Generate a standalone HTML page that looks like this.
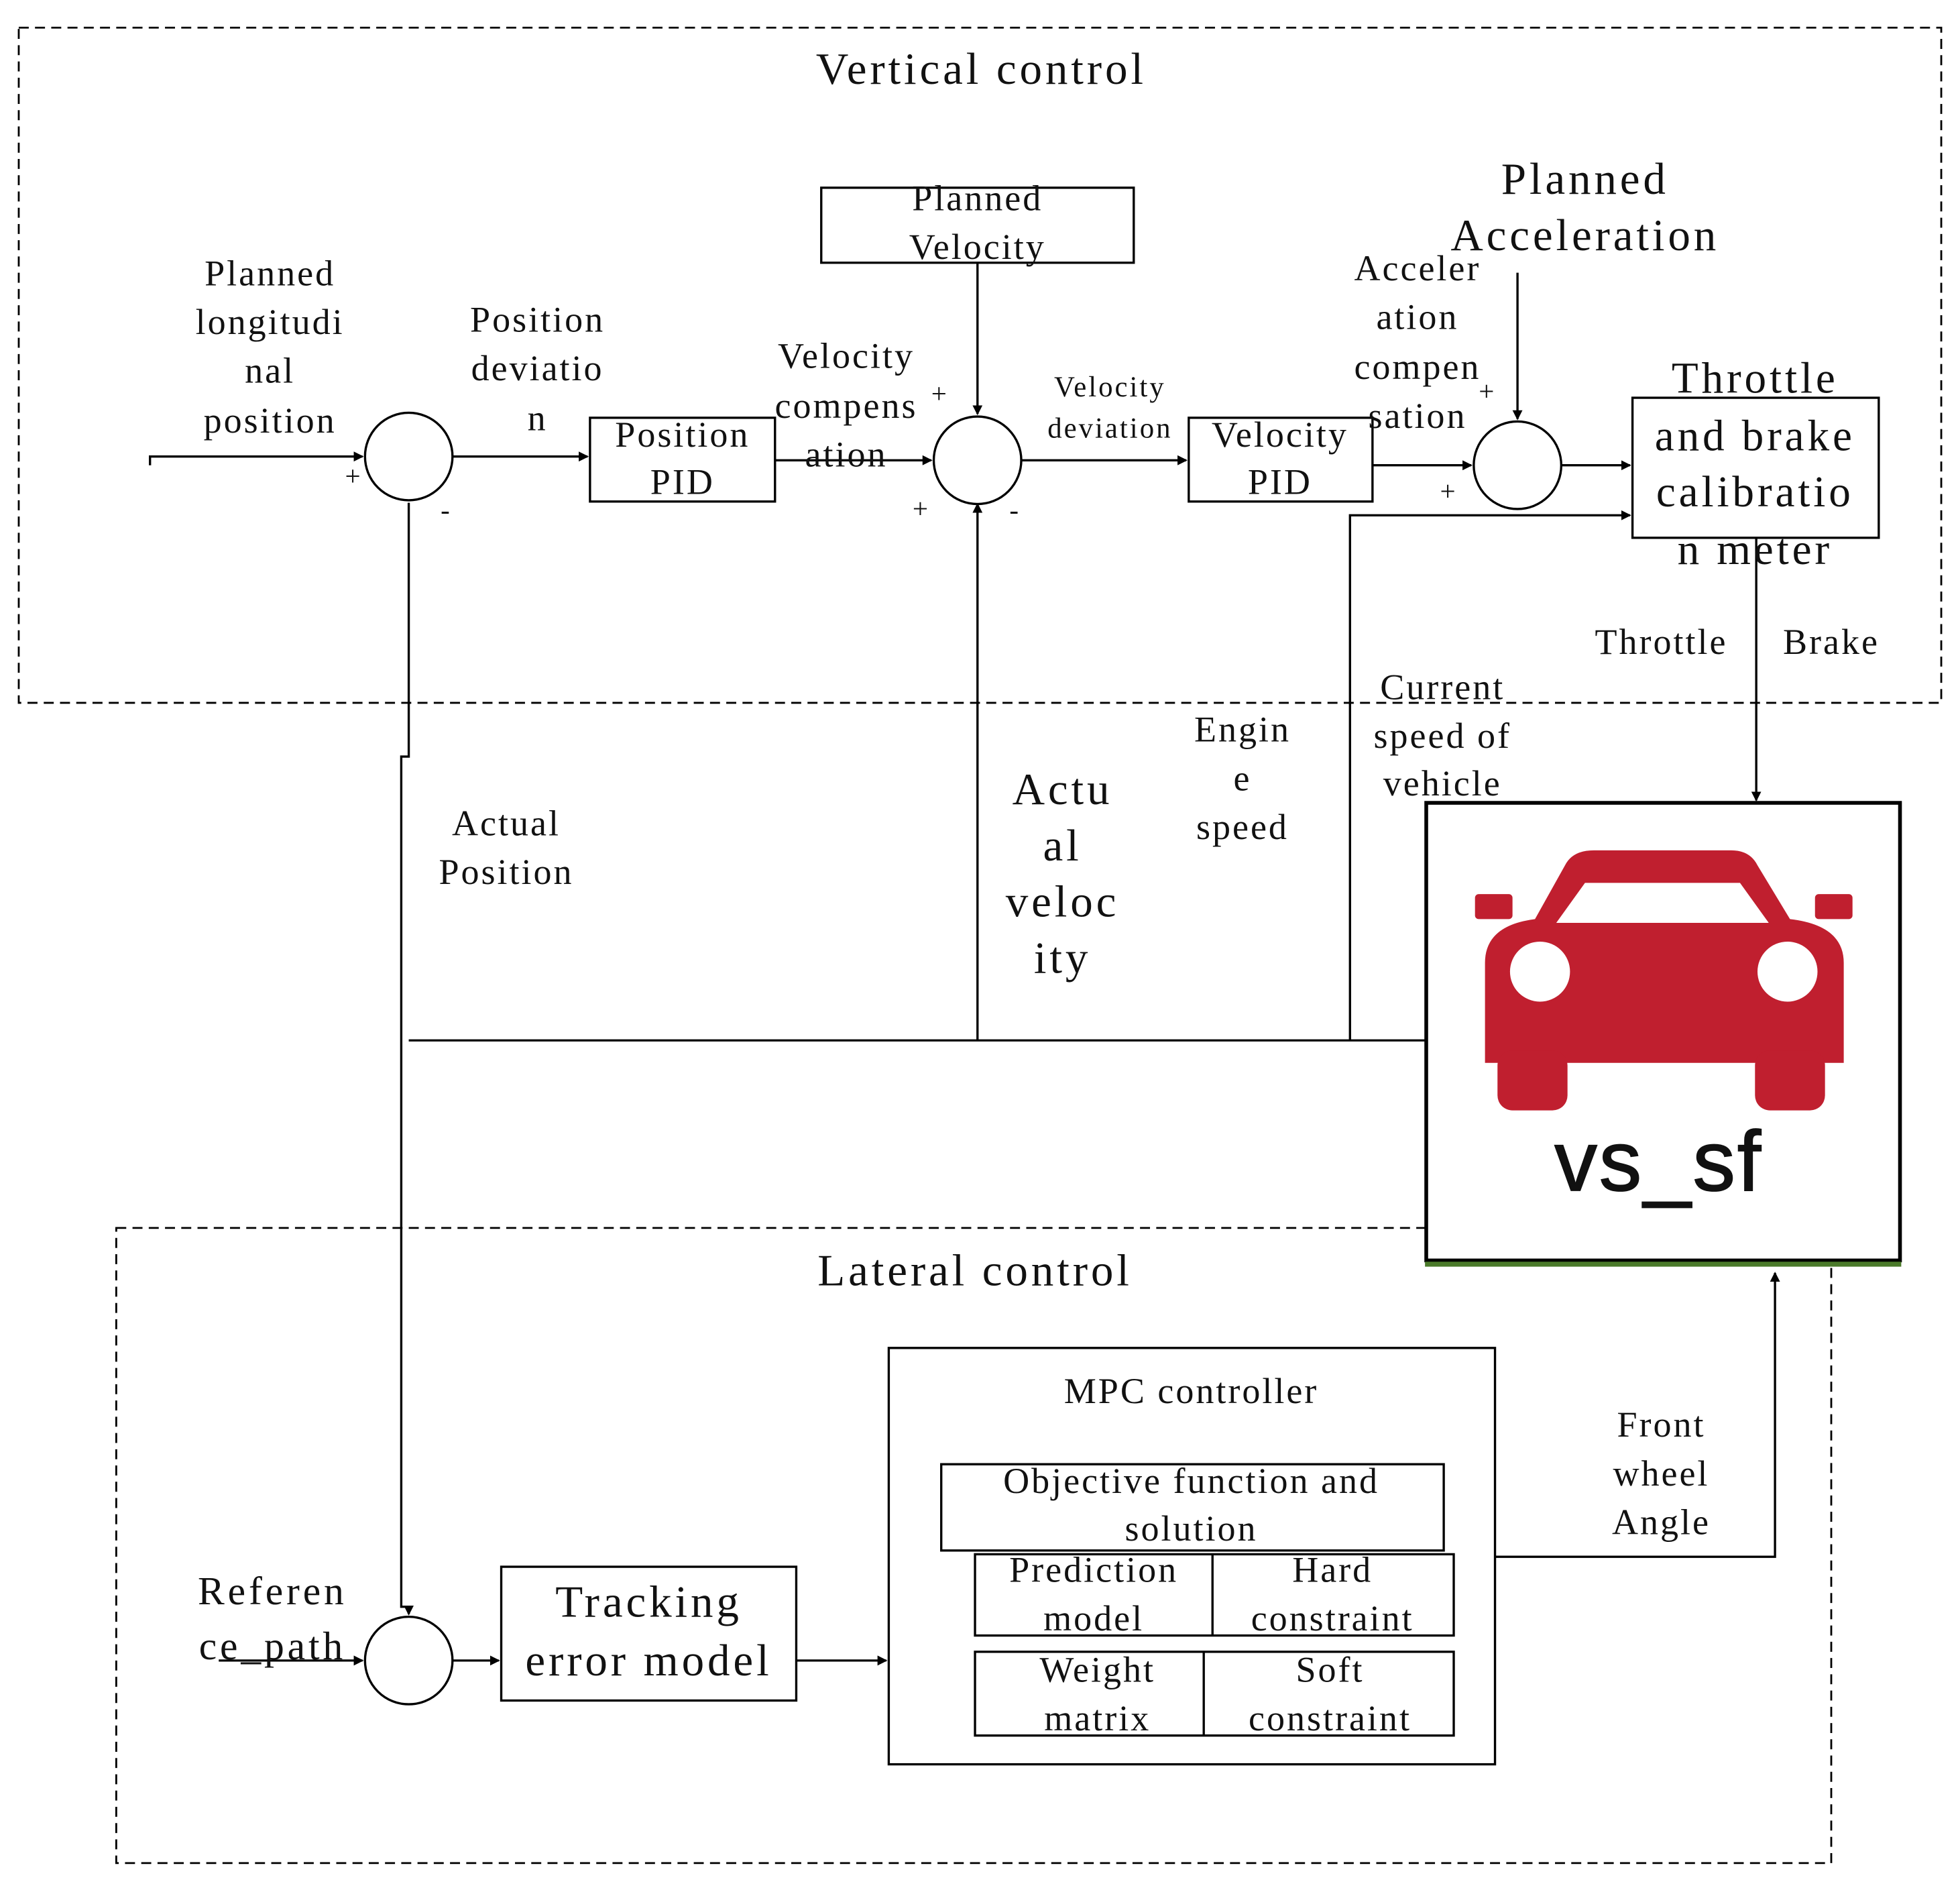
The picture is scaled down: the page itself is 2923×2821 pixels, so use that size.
<!DOCTYPE html>
<html><head><meta charset="utf-8"><style>html,body{margin:0;padding:0;background:#fff}svg{display:block}text{letter-spacing:1.6px}.b{letter-spacing:2.6px}</style></head>
<body>
<svg width="2923" height="2821" viewBox="0 0 1568 1513" xmlns="http://www.w3.org/2000/svg" font-family="Liberation Serif, serif" font-size="29" fill="none">
<defs><marker id="a" markerWidth="8" markerHeight="8" refX="7" refY="4" orient="auto" markerUnits="userSpaceOnUse"><path d="M0,0 L8,4 L0,8 z" fill="#000"/></marker></defs>
<g stroke="#000" stroke-width="1.5" stroke-dasharray="8,5">
<rect x="15" y="22" width="1538" height="540"/>
<rect x="93" y="982" width="1372" height="508"/>
</g>
<g stroke="#000" stroke-width="1.8" fill="#fff">
<circle cx="327" cy="365" r="35"/><circle cx="782" cy="368" r="35"/><circle cx="1214" cy="372" r="35"/><circle cx="327" cy="1328" r="35"/>
<rect x="472" y="334" width="148" height="67"/>
<rect x="657" y="150" width="250" height="60"/>
<rect x="951" y="334" width="147" height="67"/>
<rect x="1306" y="318" width="197" height="112"/>
<rect x="401" y="1253" width="236" height="107"/>
<rect x="711" y="1078" width="485" height="333"/>
<rect x="753" y="1171" width="402" height="69"/>
<rect x="780" y="1243" width="383" height="65"/><line x1="970" y1="1243" x2="970" y2="1308"/>
<rect x="780" y="1321" width="383" height="67"/><line x1="963" y1="1321" x2="963" y2="1388"/>
</g>
<rect x="1141" y="642" width="379" height="366" fill="#fff" stroke="#000" stroke-width="3"/>
<line x1="1140" y1="1011" x2="1521" y2="1011" stroke="#4a7a2a" stroke-width="4"/>
<g stroke="#000" stroke-width="1.8">
<path d="M120,372 V365 H290" marker-end="url(#a)"/>
<path d="M362,365 H470" marker-end="url(#a)"/>
<path d="M620,368 H745" marker-end="url(#a)"/>
<path d="M782,210 V331" marker-end="url(#a)"/>
<path d="M817,368 H949" marker-end="url(#a)"/>
<path d="M1098,372 H1177" marker-end="url(#a)"/>
<path d="M1214,218 V335" marker-end="url(#a)"/>
<path d="M1249,372 H1304" marker-end="url(#a)"/>
<path d="M1080,832 V412 H1304" marker-end="url(#a)"/>
<path d="M782,832 V403" marker-end="url(#a)"/>
<path d="M327,832 H1141"/>
<path d="M327,402 V605 H321 V1285 H327 V1291" marker-end="url(#a)"/>
<path d="M1405,430 V640" marker-end="url(#a)"/>
<path d="M1196,1245 H1420 V1018" marker-end="url(#a)"/>
<path d="M175,1328 H290" marker-end="url(#a)"/>
<path d="M362,1328 H399" marker-end="url(#a)"/>
<path d="M637,1328 H709" marker-end="url(#a)"/>
</g>
<g fill="#c01f2f">
<path d="M1228,735 L1252,692 Q1258,680 1275,680 H1385 Q1400,680 1406,692 L1432,735 Q1475,740 1475,770 V850 H1188 V770 Q1188,740 1228,735 Z"/>
<rect x="1198" y="840" width="56" height="48" rx="12"/><rect x="1404" y="840" width="56" height="48" rx="12"/>
<rect x="1180" y="715" width="30" height="20" rx="3"/><rect x="1452" y="715" width="30" height="20" rx="3"/>
</g>
<path d="M1268,706 H1392 L1415,738 H1245 Z" fill="#fff"/>
<circle cx="1232" cy="777" r="24" fill="#fff"/><circle cx="1430" cy="777" r="24" fill="#fff"/>
<text x="1327" y="952" font-family="Liberation Sans, sans-serif" font-size="68" fill="#111" text-anchor="middle" stroke="#111" stroke-width="1">vs_sf</text>
<g fill="#111" text-anchor="middle">
<text class="b" x="785" y="67" font-size="36">Vertical control</text>
<text class="b" x="780" y="1028" font-size="36">Lateral control</text>
<text x="216" y="228">Planned</text><text x="216" y="267">longitudi</text><text x="216" y="306">nal</text><text x="216" y="346">position</text>
<text x="430" y="265">Position</text><text x="430" y="304">deviatio</text><text x="430" y="344">n</text>
<text x="546" y="357">Position</text><text x="546" y="395">PID</text>
<text x="677" y="294">Velocity</text><text x="677" y="334">compens</text><text x="677" y="373">ation</text>
<text x="782" y="168">Planned</text><text x="782" y="207">Velocity</text>
<text x="888" y="317" font-size="23">Velocity</text><text x="888" y="350" font-size="23">deviation</text>
<text x="1024" y="357">Velocity</text><text x="1024" y="395">PID</text>
<text x="1134" y="224">Acceler</text><text x="1134" y="263">ation</text><text x="1134" y="303">compen</text><text x="1134" y="342">sation</text>
<text class="b" x="1268" y="155" font-size="36">Planned</text><text class="b" x="1268" y="200" font-size="36">Acceleration</text>
<text class="b" x="1404" y="314" font-size="35">Throttle</text><text class="b" x="1404" y="360" font-size="35">and brake</text><text class="b" x="1404" y="405" font-size="35">calibratio</text><text class="b" x="1404" y="451" font-size="35">n meter</text>
<text x="1329" y="523">Throttle</text><text x="1465" y="523">Brake</text>
<text x="1154" y="559">Current</text><text x="1154" y="598">speed of</text><text x="1154" y="636">vehicle</text>
<text x="994" y="593">Engin</text><text x="994" y="632">e</text><text x="994" y="671">speed</text>
<text class="b" x="850" y="643" font-size="36">Actu</text><text class="b" x="850" y="688" font-size="36">al</text><text class="b" x="850" y="733" font-size="36">veloc</text><text class="b" x="850" y="778" font-size="36">ity</text>
<text x="405" y="668">Actual</text><text x="405" y="707">Position</text>
<text x="953" y="1122">MPC controller</text>
<text x="953" y="1194">Objective function and</text><text x="953" y="1232">solution</text>
<text x="875" y="1265">Prediction</text><text x="875" y="1304">model</text>
<text x="1066" y="1265">Hard</text><text x="1066" y="1304">constraint</text>
<text x="878" y="1345">Weight</text><text x="878" y="1384">matrix</text>
<text x="1064" y="1345">Soft</text><text x="1064" y="1384">constraint</text>
<text x="1329" y="1149">Front</text><text x="1329" y="1188">wheel</text><text x="1329" y="1227">Angle</text>
<text class="b" x="519" y="1293" font-size="36">Tracking</text><text class="b" x="519" y="1340" font-size="36">error model</text>
<text class="b" x="218" y="1283" font-size="32">Referen</text><text class="b" x="218" y="1327" font-size="32">ce_path</text>
<text x="283" y="388" font-size="22">+</text><text x="357" y="415" font-size="22">-</text>
<text x="752" y="322" font-size="22">+</text><text x="737" y="414" font-size="22">+</text><text x="812" y="415" font-size="22">-</text>
<text x="1190" y="320" font-size="22">+</text><text x="1159" y="400" font-size="22">+</text>
</g>
</svg>
</body></html>
